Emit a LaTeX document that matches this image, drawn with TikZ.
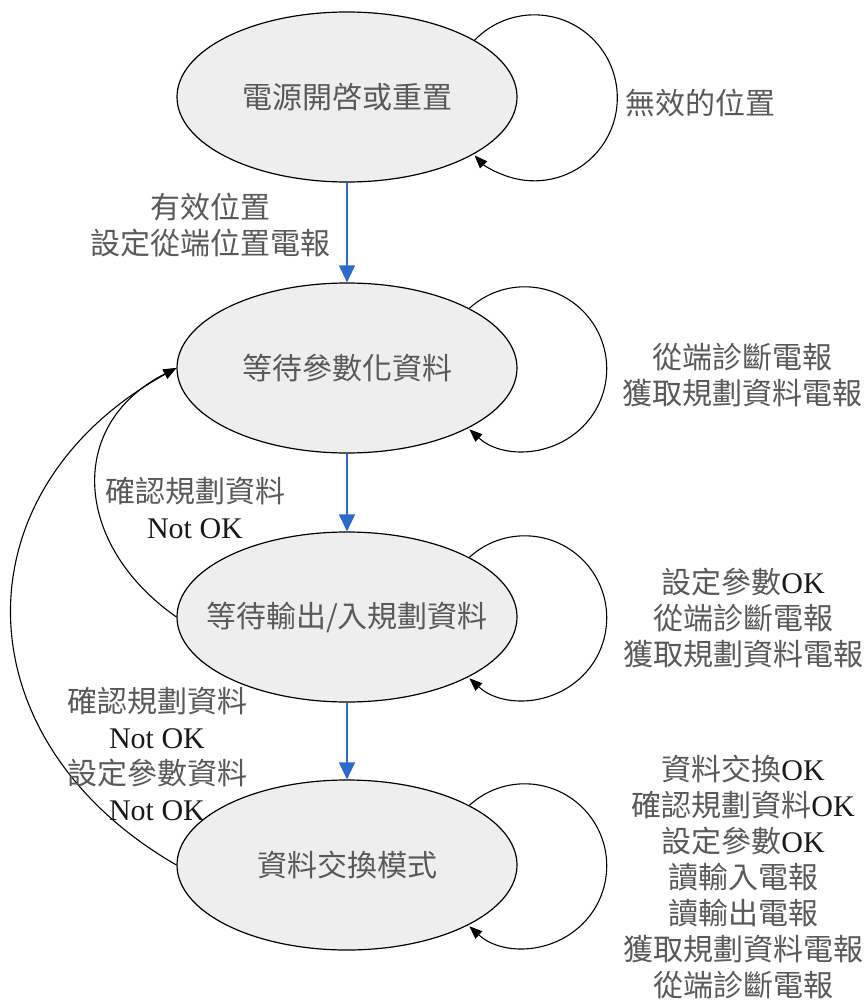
\documentclass[tikz,border=0pt]{standalone}
\usepackage{fontspec}
\setmainfont{Noto Sans CJK TC}
\newfontfamily\tnr{Liberation Serif}
\usetikzlibrary{arrows.meta,shapes.geometric}
\definecolor{fillgray}{RGB}{238,238,238}
\definecolor{goblue}{RGB}{45,105,205}
\newcommand\latin[1]{{\tnr\color{black!90}#1}}

\begin{document}
\begin{tikzpicture}[x=1pt,y=1pt,
    phase/.style={ellipse,draw,line width=1.2pt,fill=fillgray,minimum width=340pt,minimum height=170pt,inner sep=0pt},
    txt/.style={align=center,text=black!65,font=\fontsize{30}{36}\selectfont},
    golink/.style={goblue,line width=1.3pt,-{Triangle[length=17pt,width=16pt]}},
    backline/.style={line width=1.1pt,-{Triangle[length=13pt,width=10pt]}}]
  \useasboundingbox (0,0) rectangle (867,-1008);
  % states
  \node[phase,label={[txt]center:電源開啓或重置}] (e1) at (347,-97) {};
  \node[phase,label={[txt]center:等待參數化資料}] (e2) at (347,-368) {};
  \node[phase,label={[txt]center:等待輸出/入規劃資料}] (e3) at (347,-617) {};
  \node[phase,label={[txt]center:資料交換模式}] (e4) at (347,-865) {};
  % forward
  \draw[golink] (e1) -- (e2);
  \draw[golink] (e2) -- (e3);
  \draw[golink] (e3) -- (e4);
  % self loops
  \draw[backline] (e1.24.7) arc[start angle=136, end angle=-136, radius=83];
  \draw[backline] (e2.26.8) arc[start angle=132.5, end angle=-132.5, radius=82];
  \draw[backline] (e3.26.8) arc[start angle=132.5, end angle=-132.5, radius=82];
  \draw[backline] (e4.26.8) arc[start angle=132.5, end angle=-132.5, radius=82];
  % back to e2
  \draw[backline] (e3.west) .. controls +(145:125) and +(207:125) .. (e2.west);
  \draw[backline] (e4.west) .. controls +(150:252) and +(209:252) .. (e2.west);
  % labels
  \node[txt] (l11) at (700,-103) {無效的位置};
  \node[txt] (l12) at (210,-225) {有效位置\\設定從端位置電報};
  \node[txt] (l22) at (742,-375) {從端診斷電報\\獲取規劃資料電報};
  \node[txt] (l32) at (195,-508) {確認規劃資料\\\latin{Not OK}};
  \node[txt] (l33) at (743,-618) {設定參數\latin{OK}\\從端診斷電報\\獲取規劃資料電報};
  \node[txt] (l42) at (157,-754) {確認規劃資料\\\latin{Not OK}\\設定參數資料\\\latin{Not OK}};
  \node[txt] (l44) at (743,-877) {資料交換\latin{OK}\\確認規劃資料\latin{OK}\\設定參數\latin{OK}\\讀輸入電報\\讀輸出電報\\獲取規劃資料電報\\從端診斷電報};
\end{tikzpicture}
\end{document}
